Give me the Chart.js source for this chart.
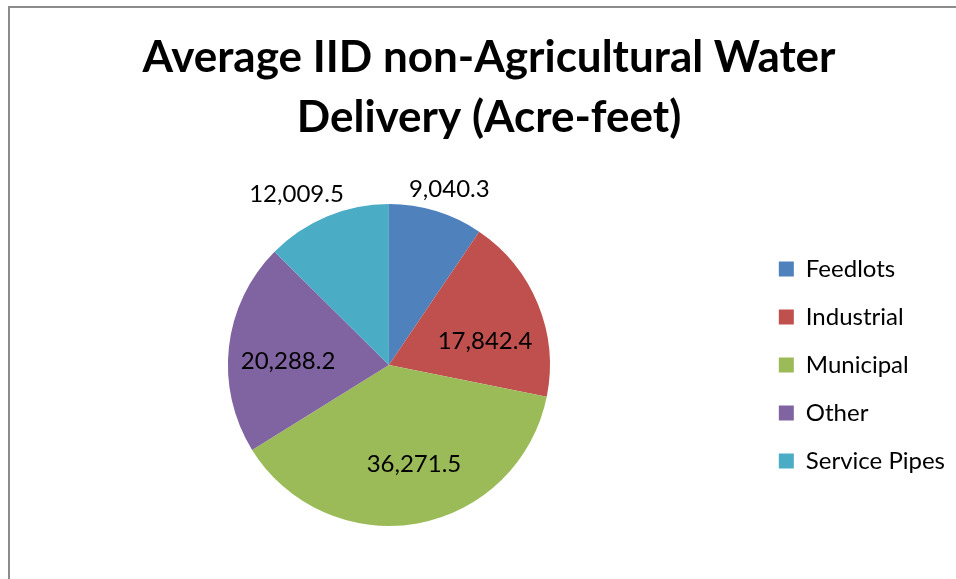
<!DOCTYPE html>
<html>
<head>
<meta charset="utf-8">
<script src="https://cdn.jsdelivr.net/npm/chart.js@4"></script>
<style>
  html, body { margin: 0; padding: 0; background: #fff; overflow: hidden; }
  #box { position: absolute; left: 8px; top: 6px; width: 958px; height: 600px;
         border: 2px solid #8c8c8c; }
</style>
</head>
<body>
<div id="box"><canvas id="pie" width="958" height="600"></canvas></div>
<script>
const categories = ['Feedlots', 'Industrial', 'Municipal', 'Other', 'Service Pipes'];
const deliveries = [9040.3, 17842.4, 36271.5, 20288.2, 12009.5];
const sliceColors = ['#4F81BD', '#C0504D', '#9BBB59', '#8064A2', '#4BACC6'];

const FONT = 'Lato, "Open Sans", sans-serif';

// label placement (best-fit look): distance as share of radius, angle nudge in degrees
const labelDist = [1.155, 0.615, 0.634, 0.627, 1.205];
const labelTurn = [1.9, 8.3, -4.0, -4.1, -5.8];

const valueLabels = {
    id: 'valueLabels',
    afterDatasetsDraw(chart) {
        const ctx = chart.ctx;
        const meta = chart.getDatasetMeta(0);
        ctx.save();
        ctx.font = '24px ' + FONT;
        ctx.fillStyle = '#000';
        ctx.textAlign = 'center';
        ctx.textBaseline = 'middle';
        meta.data.forEach(function (arc, i) {
            const mid = (arc.startAngle + arc.endAngle) / 2 + labelTurn[i] * Math.PI / 180;
            const r = arc.outerRadius * labelDist[i];
            const x = arc.x + Math.cos(mid) * r;
            const y = arc.y + Math.sin(mid) * r;
            ctx.fillText(deliveries[i].toLocaleString('en-US', {minimumFractionDigits: 1}), x, y);
        });
        ctx.restore();
    }
};

new Chart(document.getElementById('pie'), {
    type: 'pie',
    data: {
        labels: categories,
        datasets: [{
            data: deliveries,
            backgroundColor: sliceColors,
            borderWidth: 0,
            radius: 161
        }]
    },
    options: {
        responsive: false,
        animation: false,
        layout: { padding: { left: 13, right: 13, top: 0, bottom: 36 } },
        plugins: {
            title: {
                display: true,
                text: ['Average IID non-Agricultural Water', 'Delivery (Acre-feet)'],
                color: '#000',
                font: { family: FONT, size: 44, weight: 'bold', lineHeight: 1.364 },
                padding: { top: 20, bottom: 10 }
            },
            legend: {
                position: 'right',
                fullSize: false,
                labels: {
                    color: '#000',
                    font: { family: FONT, size: 24 },
                    boxWidth: 15,
                    boxHeight: 15,
                    padding: 24
                }
            },
            tooltip: { enabled: false }
        }
    },
    plugins: [valueLabels]
});
</script>
</body>
</html>
